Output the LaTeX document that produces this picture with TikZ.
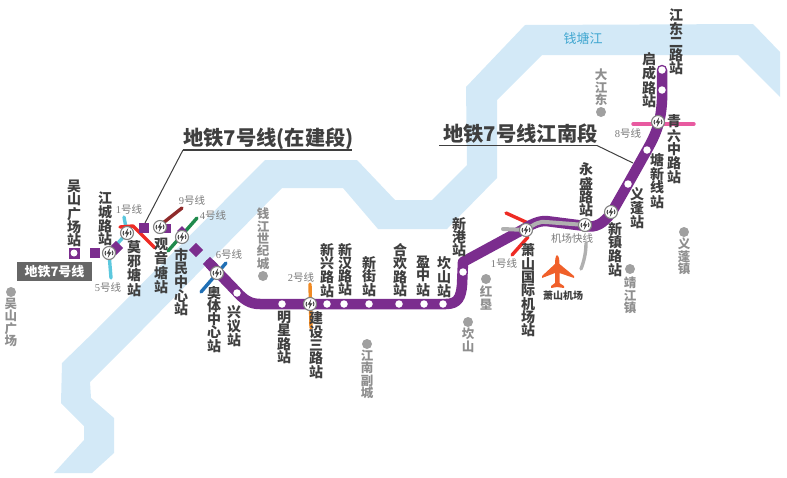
\documentclass[tikz,border=0pt]{standalone}
\usepackage{fontspec}
\setmainfont{Noto Sans CJK SC}
\newfontfamily\digitfont{Liberation Serif}
\XeTeXlinebreaklocale "zh"
\XeTeXlinebreakskip=0pt plus 0pt
\definecolor{river}{HTML}{D3E9F7}
\definecolor{metro}{HTML}{7B2D8E}
\definecolor{ink}{HTML}{3F3F3F}
\definecolor{place}{HTML}{8F8F8F}
\definecolor{lbl}{HTML}{7A7A7A}
\definecolor{plane}{HTML}{F0602A}
\definecolor{lcyan}{HTML}{5CC8DE}
\definecolor{lred}{HTML}{EE2B24}
\definecolor{ldred}{HTML}{8E2A2A}
\definecolor{lgreen}{HTML}{1F8A4C}
\definecolor{lblue}{HTML}{1F6FB5}
\definecolor{lorange}{HTML}{F08A24}
\definecolor{lpink}{HTML}{E85AA0}
\definecolor{lgrey}{HTML}{B0B0B0}
\definecolor{rivertext}{HTML}{3FA6D0}
\tikzset{
  x=1pt,y=-1pt,
  stn/.style={font=\bfseries\fontsize{14}{13.3}\selectfont,text=ink,text width=14pt,align=center,anchor=north,inner sep=0pt,outer sep=0pt},
  plc/.style={font=\fontsize{12.5}{12.4}\selectfont\bfseries,text=place,text width=12.5pt,align=center,anchor=north,inner sep=0pt,outer sep=0pt},
  lin/.style={font=\fontsize{10.5}{11}\selectfont,text=lbl,inner sep=0pt},
  ttl/.style={font=\bfseries\fontsize{20.3}{22}\selectfont,text=ink,inner sep=0pt},
  track/.style={draw=metro,line width=10.5pt,line cap=round,line join=round},
  branch/.style={line width=3.4pt,line cap=round,line join=round},
  stop/.style={circle,fill=white,minimum size=7.5pt,inner sep=0pt},
  xfer/.style={circle,fill=white,draw=gray,line width=1.1pt,minimum size=13pt,inner sep=0pt},
  sq/.style={rectangle,fill=metro,minimum size=10pt,inner sep=0pt},
  dia/.style={rectangle,fill=metro,minimum size=10pt,inner sep=0pt,rotate=45},
  pdot/.style={circle,fill=place!85!white,minimum size=10pt,inner sep=0pt},
  leader/.style={draw=ink,line width=1pt},
  rule/.style={draw=ink,line width=1.6pt},
}
\newcommand\dg[1]{{\digitfont #1}}
\newcommand\glyph[1]{%
  \draw[ink,line width=1pt] ([shift={(-3.4,-2)}]#1.center) arc[start angle=150,end angle=215,radius=4pt];
  \draw[ink,line width=1pt] ([shift={(3.4,2)}]#1.center) arc[start angle=-30,end angle=35,radius=4pt];
  \fill[ink] ([shift={(1.2,-5)}]#1.center) -- ([shift={(-2.4,0.8)}]#1.center) -- ([shift={(-0.2,0.6)}]#1.center) -- ([shift={(-1.2,5)}]#1.center) -- ([shift={(2.4,-0.8)}]#1.center) -- ([shift={(0.2,-0.6)}]#1.center) -- cycle;
}
\begin{document}
\begin{tikzpicture}
\useasboundingbox (0,0) rectangle (787,477);
% river
\fill[river] (96,330) -- (62,363) -- (61,403) -- (84,426) -- (84,440) -- (54,473) -- (92,473) -- (114,453) -- (114,418) -- (91,398) -- (90,382) -- (142,330)
  -- (282,188) -- (343,188) -- (378,229) -- (447,229) -- (497,178) -- (497,100) -- (542,55) -- (738,55) -- (780,97) -- (780,52) -- (753,24) -- (525,25) -- (466,87) -- (467,165) -- (432,200) -- (395,200) -- (357,160) -- (265,160) -- cycle;
% transfer lines
\draw[branch,draw=lcyan] (111,278) -- (109,253) -- (127,233) -- (124,217);
\draw[branch,draw=lred] (120,227) -- (133,226) -- (155,248);
\draw[branch,draw=ldred] (182,208) -- (163,223);
\draw[branch,draw=lgreen] (197,218) -- (168,251);
\draw[branch,draw=lblue] (226,263) -- (201,292);
\draw[branch,draw=lorange] (310,284) -- (311,328);
\draw[branch,draw=lpink] (633,124) -- (694,124);
\draw[branch,draw=lred] (506,213) -- (528,223);
\draw[branch,draw=lred] (512,255) -- (528,237);
% main line
\draw[track] (210,264) -- (236,291) .. controls (244,300) and (250,304) .. (260,304) -- (446,304) .. controls (458,304) and (461,297) .. (462,285) -- (463,262) -- (522,230) .. controls (532,224) and (538,221) .. (546,221) -- (585,226) .. controls (596,228) and (603,224) .. (612,212) -- (628,184) -- (647,150) .. controls (656,134) and (661,122) .. (662,100) -- (662,70);
% airport express
\draw[branch,draw=lgrey,line width=4pt] (503,229) -- (526,230) .. controls (534,224) and (540,221) .. (546,222) -- (585,225);
\draw[branch,draw=lgrey,line width=3.4pt] (586,243) .. controls (586,253) and (584,261) .. (581,269);
% leaders
\draw[rule] (183,150) -- (352,150);
\draw[leader] (183,150) -- (145,223);
\draw[rule] (439,145.5) -- (597,145.5);
\draw[leader] (597,145.5) -- (633,163);
% western stations
\node[sq,minimum size=11pt] (wus) at (74,253) {};
\node[stop,minimum size=7pt] (wusin) at (74,253) {};
\node[sq] (s2) at (95,253) {};
\node[dia] (s3) at (116,248) {};
\node[sq] (s4) at (144,228) {};
\node[sq,minimum size=9pt] (s5) at (166,228) {};
\node[dia,minimum size=7pt] (s5b) at (182,231) {};
\node[dia] (s6) at (196,250) {};
\node[dia] (s7) at (210,264) {};
% interchange stations
\foreach \n/\x/\y in {a/109/253,b/127/233,c/160/227,d/182/237,e/217/273,f/310/304,g/526/230,h/585/225,i/611/212,j/658/122}{
  \node[xfer] (\n) at (\x,\y) {};
  \glyph{\n}
}
% plain stops
\foreach \n/\x/\y in {p1/237/293,p2/282/304,p3/327/304,p4/344/304,p5/369/304,p6/399/304,p7/424/304,p8/443/304,p9/463/272,p10/628/184,p11/647/150,p12/662/90,p13/662/70}{
  \node[stop] (\n) at (\x,\y) {};
}
% station names
\node[stn] (n1) at (74,180) {吴山广场站};
\node[stn] (n2) at (105,192) {江城路站};
\node[stn] (n3) at (134,241) {莫邪塘站};
\node[stn] (n4) at (161,238) {观音塘站};
\node[stn] (n5) at (181,248) {市民中心站};
\node[stn] (n6) at (214,286) {奥体中心站};
\node[stn] (n7) at (234,305) {兴议站};
\node[stn] (n8) at (284,311) {明星路站};
\node[stn] (n9) at (316,312) {建设三路站};
\node[stn] (n10) at (327,243) {新兴路站};
\node[stn] (n11) at (345,243) {新汉路站};
\node[stn] (n12) at (369,256) {新街站};
\node[stn] (n13) at (400,243) {合欢路站};
\node[stn] (n14) at (423,256) {盈中站};
\node[stn] (n15) at (444,257) {坎山站};
\node[stn] (n16) at (459,217) {新港站};
\node[stn] (n17) at (528,244) {萧山国际机场站};
\node[stn] (n18) at (586,163) {永盛路站};
\node[stn] (n19) at (615,222) {新镇路站};
\node[stn] (n20) at (637,187) {义蓬站};
\node[stn] (n21) at (657,153) {塘新线站};
\node[stn] (n22) at (674,115) {青六中路站};
\node[stn] (n23) at (649,52) {启成路站};
\node[stn] (n24) at (676,9) {江东二路站};
% places
\foreach \n/\x/\y in {d1/11/292,d2/263/276,d3/601/112,d4/367/344,d5/468/322,d6/486/279,d7/630/269,d8/684/232}{
  \node[pdot] (\n) at (\x,\y) {};
}
\node[plc] (t1) at (11,298) {吴山广场};
\node[plc] (t2) at (263,208) {钱江世纪城};
\node[plc] (t3) at (601,69) {大江东};
\node[plc] (t4) at (367,350) {江南副城};
\node[plc] (t5) at (468,328) {坎山};
\node[plc] (t6) at (486,286) {红垦};
\node[plc] (t7) at (630,277) {靖江镇};
\node[plc] (t8) at (684,238) {义蓬镇};
\node[font=\fontsize{13}{14}\selectfont,text=rivertext,inner sep=0pt] (qt) at (583,39) {钱塘江};
% line labels
\node[lin] (l1) at (129,209) {\dg{1}号线};
\node[lin] (l5) at (108,287) {\dg{5}号线};
\node[lin] (l9) at (192,200) {\dg{9}号线};
\node[lin] (l4) at (213,215) {\dg{4}号线};
\node[lin] (l6) at (229,254) {\dg{6}号线};
\node[lin] (l2) at (301,277) {\dg{2}号线};
\node[lin] (lj) at (572,239) {机场快线};
\node[lin] (l1b) at (504,263) {\dg{1}号线};
\node[lin] (l8) at (628,133) {\dg{8}号线};
% titles
\node[ttl,anchor=west] (title1) at (183,139) {地铁7号线(在建段)};
\node[ttl,anchor=west] (title2) at (443,134) {地铁7号线江南段};
\node[fill=black!60,text=white,font=\bfseries\fontsize{13}{14}\selectfont,minimum width=75pt,minimum height=19pt,inner sep=0pt] (badge) at (54.5,271.5) {地铁7号线};
% airport
\fill[plane] (557,255) .. controls (559,256) and (559.5,260) .. (559.5,264) -- (574,276) -- (574,278) -- (559.5,273) -- (559.5,283) -- (564,286) -- (564,288) -- (557,287) -- (551,288) -- (551,286) -- (555,283) -- (555,273) -- (542,278) -- (542,276) -- (555,264) .. controls (555,260) and (555.5,256) .. (557,255) -- cycle;
\node[font=\bfseries\fontsize{10}{11}\selectfont,text=ink,inner sep=0pt] (air) at (563,296) {萧山机场};
\end{tikzpicture}
\end{document}
